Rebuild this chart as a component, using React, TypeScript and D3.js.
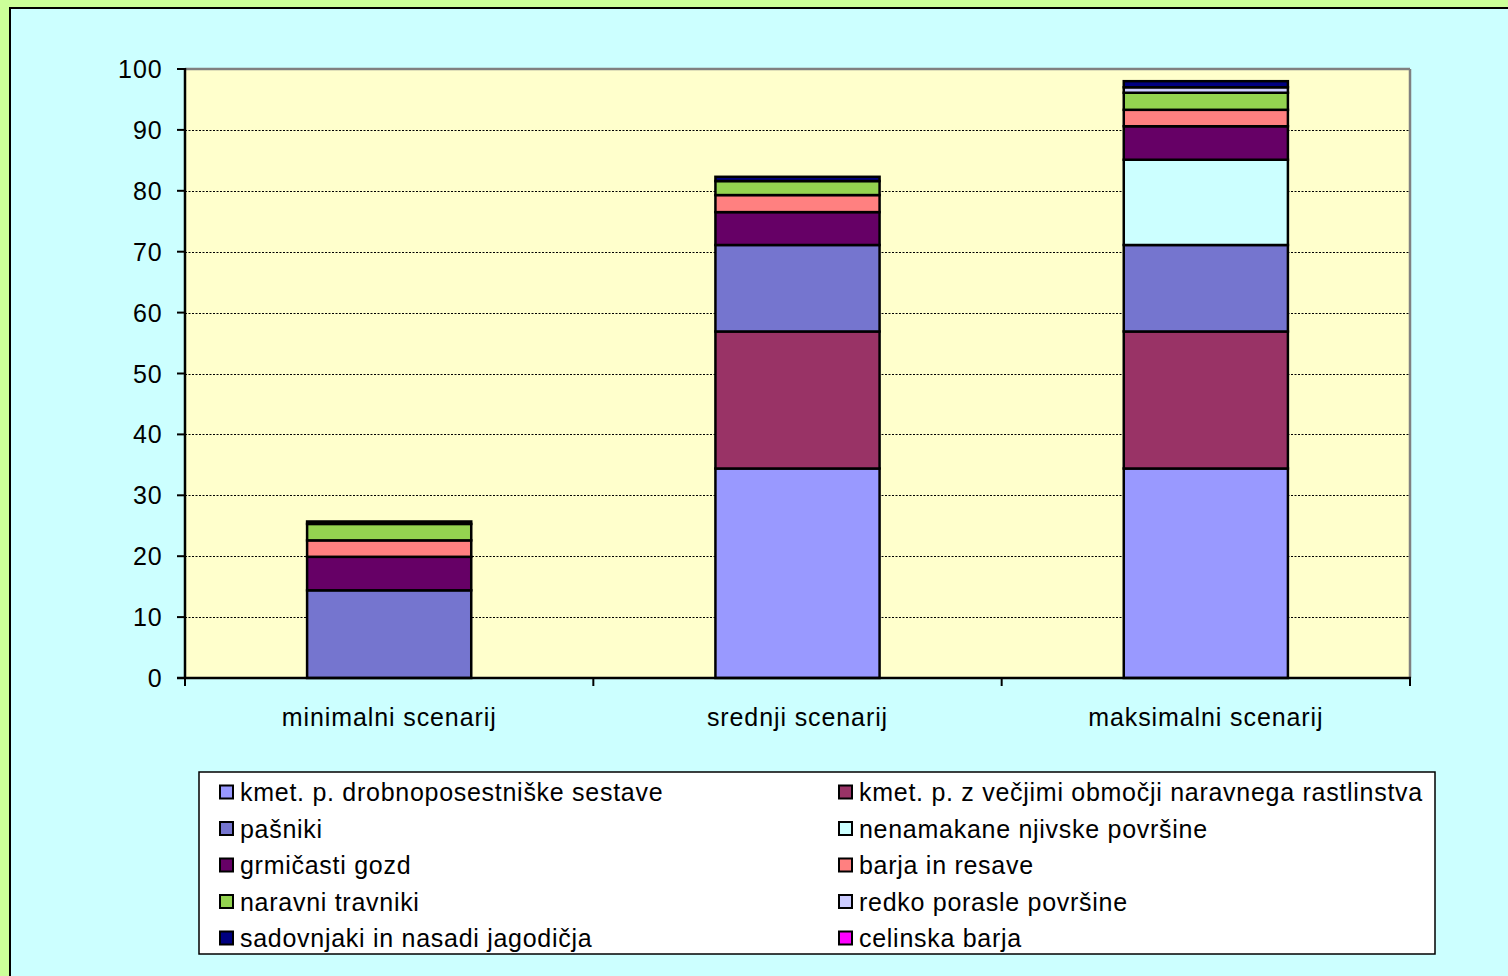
import React from "react";
import * as d3 from "d3";

const categories = ["minimalni scenarij", "srednji scenarij", "maksimalni scenarij"];

const seriesNames = [
  "kmet. p. drobnoposestniške sestave",
  "kmet. p. z večjimi območji naravnega rastlinstva",
  "pašniki",
  "nenamakane njivske površine",
  "grmičasti gozd",
  "barja in resave",
  "naravni travniki",
  "redko porasle površine",
  "sadovnjaki in nasadi jagodičja",
  "celinska barja",
];

const seriesColors = [
  "#9999FF",
  "#993366",
  "#7575CF",
  "#CCFFFF",
  "#660066",
  "#FF8080",
  "#94D350",
  "#CCCCFF",
  "#000080",
  "#FF00FF",
];

// values per series: [minimalni, srednji, maksimalni]
const drobnoposestniske = [0, 34.4, 34.4];
const vecjimiObmocji = [0, 22.5, 22.5];
const pasniki = [14.4, 14.2, 14.2];
const nenamakane = [0, 0, 14.0];
const grmicastiGozd = [5.5, 5.4, 5.5];
const barjaResave = [2.7, 2.8, 2.7];
const naravniTravniki = [2.7, 2.3, 2.8];
const redkoPorasle = [0, 0, 0.9];
const sadovnjaki = [0.4, 0.7, 1.0];
const celinskaBarja = [0, 0, 0];

const seriesValues = [
  drobnoposestniske,
  vecjimiObmocji,
  pasniki,
  nenamakane,
  grmicastiGozd,
  barjaResave,
  naravniTravniki,
  redkoPorasle,
  sadovnjaki,
  celinskaBarja,
];

const yTicks = [0, 10, 20, 30, 40, 50, 60, 70, 80, 90, 100];

const FONT = "'Liberation Sans', Arial, sans-serif";
const FS = 25;
const LS = 0.9;

export default function App() {
  const W = 1508;
  const H = 976;
  const left = 185;
  const right = 1410;
  const top = 69;
  const bottom = 678;

  const x = d3
    .scaleBand<string>()
    .domain(categories)
    .range([left, right])
    .paddingInner(0.598)
    .paddingOuter(0.299);
  const y = d3.scaleLinear().domain([0, 100]).range([bottom, top]);

  const table = categories.map((c, i) => {
    const row: Record<string, any> = { cat: c };
    seriesNames.forEach((s, j) => (row[s] = seriesValues[j][i]));
    return row;
  });
  const stack = d3.stack<Record<string, any>>().keys(seriesNames);
  const layers = stack(table);

  const step = x.step();
  const boundaries = d3.range(categories.length + 1).map((i) => left + i * step);

  const legendRowY = [792, 828.5, 865, 901.5, 938];
  const legendColX = [219, 838];

  return (
    <svg
      width={W}
      height={H}
      style={{ position: "absolute", left: 0, top: 0, display: "block" }}
      fontFamily={FONT}
    >
      <rect x={0} y={0} width={W} height={H} fill="#CCFF99" />
      <rect x={10} y={8} width={W + 20} height={H + 20} fill="#CCFFFF" stroke="#000" strokeWidth={2} />

      {/* plot area */}
      <rect x={left} y={top} width={right - left} height={bottom - top} fill="#FFFFCC" />
      <line x1={left} x2={right} y1={top} y2={top} stroke="#808080" strokeWidth={2.5} />
      <line x1={right} x2={right} y1={top} y2={bottom} stroke="#808080" strokeWidth={2.5} />

      {/* gridlines */}
      {yTicks
        .filter((t) => t > 0 && t < 100)
        .map((t) => (
          <line
            key={"g" + t}
            x1={left}
            x2={right}
            y1={Math.round(y(t)) + 0.5}
            y2={Math.round(y(t)) + 0.5}
            stroke="#000"
            strokeWidth={1}
            strokeDasharray="2,1.5"
          />
        ))}

      {/* bars */}
      {layers.map((layer, li) =>
        layer.map((d, ci) => {
          const h = y(d[0]) - y(d[1]);
          if (h <= 0) return null;
          return (
            <rect
              key={li + "-" + ci}
              x={x(categories[ci])!}
              y={y(d[1])}
              width={x.bandwidth()}
              height={h}
              fill={seriesColors[li]}
              stroke="#000"
              strokeWidth={2.5}
            />
          );
        })
      )}

      {/* axes */}
      <line x1={left} x2={left} y1={top - 1} y2={bottom} stroke="#000" strokeWidth={2.5} />
      {yTicks.map((t) => (
        <g key={"t" + t}>
          <line x1={left - 8} x2={left} y1={y(t)} y2={y(t)} stroke="#000" strokeWidth={2} />
          <text
            x={162.5}
            y={y(t)}
            dy="0.36em"
            textAnchor="end"
            fontSize={FS}
            letterSpacing={LS}
            fill="#000"
          >
            {t}
          </text>
        </g>
      ))}
      <line x1={left - 8} x2={right + 1} y1={bottom} y2={bottom} stroke="#000" strokeWidth={2.5} />
      {boundaries.map((bx, i) => (
        <line key={"xb" + i} x1={bx} x2={bx} y1={bottom} y2={bottom + 8} stroke="#000" strokeWidth={2} />
      ))}
      {categories.map((c) => (
        <text
          key={c}
          x={x(c)! + x.bandwidth() / 2}
          y={726}
          textAnchor="middle"
          fontSize={FS}
          letterSpacing={LS}
          fill="#000"
        >
          {c}
        </text>
      ))}

      {/* legend */}
      <rect x={199} y={772} width={1236} height={182} fill="#FFFFFF" stroke="#000" strokeWidth={1.5} />
      {seriesNames.map((s, i) => {
        const col = i % 2;
        const row = Math.floor(i / 2);
        const lx = legendColX[col];
        const ly = legendRowY[row];
        return (
          <g key={"l" + i}>
            <rect x={lx + 1} y={ly - 6.5} width={13} height={13} fill={seriesColors[i]} stroke="#000" strokeWidth={2} />
            <text x={lx + 21} y={ly} dy="0.36em" fontSize={FS} letterSpacing={LS * 0.8} fill="#000">
              {s}
            </text>
          </g>
        );
      })}
    </svg>
  );
}
